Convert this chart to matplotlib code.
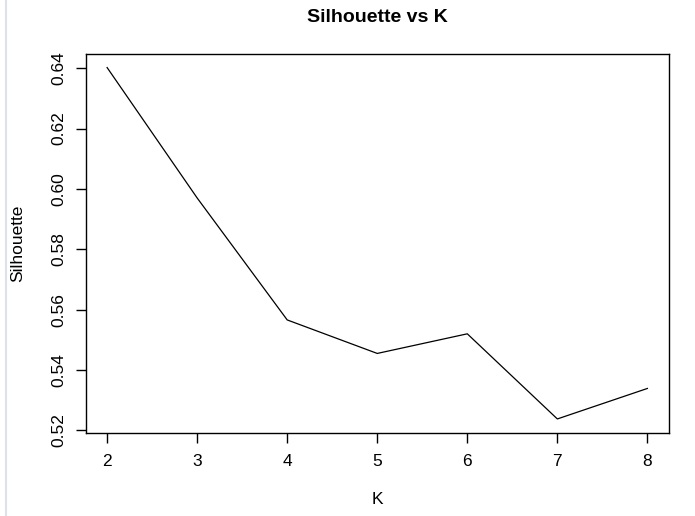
import matplotlib.pyplot as plt
from matplotlib.lines import Line2D

k_values = [2, 3, 4, 5, 6, 7, 8]
silhouette = [0.6402, 0.5970, 0.5566, 0.5455, 0.5520, 0.5238, 0.5339]
y_ticks = [0.52, 0.54, 0.56, 0.58, 0.60, 0.62, 0.64]

plt.rcParams['font.family'] = ['Liberation Sans', 'DejaVu Sans']

W, H = 695, 516
fig = plt.figure(figsize=(W / 100, H / 100), dpi=100)
ax = fig.add_axes([85.5 / W, (H - 433) / H, (669 - 85.5) / W, (433 - 53.5) / H])

ax.plot(k_values, silhouette, color='black', linewidth=0.9)

# R-style 4% padding on both axes
pad_x = 0.04 * (max(k_values) - min(k_values))
pad_y = 0.04 * (max(silhouette) - min(silhouette))
ax.set_xlim(min(k_values) - pad_x, max(k_values) + pad_x)
ax.set_ylim(min(silhouette) - pad_y, max(silhouette) + pad_y)

ax.set_xticks(k_values)
ax.set_yticks(y_ticks)
ax.set_yticklabels([f'{v:.2f}' for v in y_ticks], rotation=90, va='center')
ax.tick_params(direction='out', length=7, width=1, labelsize=12.5, colors='black')
ax.tick_params(axis='x', pad=8)
ax.tick_params(axis='y', pad=7)
for s in ax.spines.values():
    s.set_linewidth(1)

ax.set_xlabel('K', fontsize=12.5)
ax.set_ylabel('Silhouette', fontsize=12.5)
ax.xaxis.set_label_coords(0.5, (433 - 500) / 379.5)
ax.yaxis.set_label_coords((18 - 85.5) / 583.5, 0.5)
ax.xaxis.label.set_va('center')
ax.yaxis.label.set_va('center')
fig.text((85.5 + 669) / 2 / W, 1 - 17 / H, 'Silhouette vs K', ha='center',
         va='center', fontsize=14, fontweight='bold')

# thin grey frame edge on the left of the screenshot
fig.add_artist(Line2D([6 / W, 6 / W], [0, 1], color='#dde2e8', linewidth=1.5))

fig.savefig('out.png', dpi=100)
